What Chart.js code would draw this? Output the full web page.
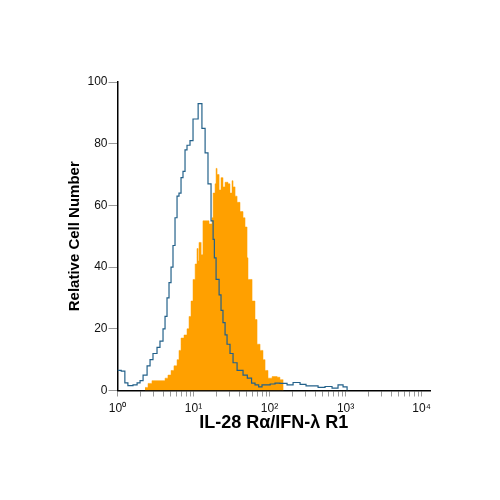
<!DOCTYPE html>
<html>
<head>
<meta charset="utf-8">
<script src="https://cdn.jsdelivr.net/npm/chart.js@4/dist/chart.umd.min.js"></script>
<style>
    html, body { margin: 0; padding: 0; background: #fff; }
    #wrap { width: 500px; height: 500px; position: relative; }
</style>
</head>
<body>
<div id="wrap"><canvas id="chart"></canvas></div>
<script>
// isotype control (blue outline): bin left edge -> relative count
const controlX = [1.0, 1.12, 1.25, 1.37, 1.60, 1.81, 1.98, 2.17, 2.45, 2.68, 2.93, 3.31, 3.62, 3.97, 4.22, 4.48, 4.76, 5.06, 5.37, 5.71, 6.07, 6.44, 6.85, 7.27, 7.73, 8.21, 8.99, 9.85, 11.5, 12.9, 14.2, 15.5, 17.0, 18.1, 18.8, 19.8, 21.7, 23.0, 24.4, 26.0, 27.6, 30.2, 33.1, 37.4, 44.8, 51.0, 58.0, 64.4, 72.0, 79.6, 90.0, 102, 118, 137, 170, 204, 252, 302, 362, 435, 537, 664, 796, 927, 1047];
const controlY = [6.5, 6.3, 2.5, 1.6, 1.8, 2.5, 3.2, 5, 8, 10, 12, 14, 16, 20, 24, 30, 35, 40, 47, 56, 63, 64, 69, 71, 78, 79.5, 81, 88, 93, 85, 77, 67, 55, 49, 43, 36, 31, 26, 22, 18, 15, 12, 9, 6.5, 5, 4, 2.4, 1.8, 1.2, 1.8, 1.8, 2.1, 2.4, 2.3, 1.8, 2.6, 2, 1.5, 1.5, 1, 1.3, 0.8, 1.8, 1.2, 0];

// IL-28 Ra stained cells (orange fill)
const stainedX = [2.30, 2.52, 2.84, 4.22, 4.61, 5.06, 5.53, 6.07, 6.44, 6.85, 7.50, 8.21, 8.73, 9.27, 9.85, 10.5, 11.1, 11.5, 11.8, 12.6, 13.3, 16.0, 17.5, 18.1, 19.2, 19.8, 20.4, 21.7, 23.0, 24.4, 26.0, 28.4, 30.2, 32.1, 33.1, 35.2, 37.4, 40.9, 44.8, 47.6, 50.6, 52.1, 58.9, 64.4, 68.5, 75.0, 82.0, 87.3, 95.5, 108, 126, 137, 151];
const stainedY = [1, 2.3, 3.2, 4, 5, 6.5, 8, 10, 13, 17, 18, 20, 24, 29, 36, 41, 46, 42, 48, 44, 55, 54, 56, 64, 67, 72, 70, 65, 69, 66, 67.5, 67, 64, 68, 66, 63, 61, 58, 56, 53, 43, 36, 29, 23, 15, 13, 10, 6.5, 4, 4.5, 4.3, 3.5, 0];

const xDecades = [1, 10, 100, 1000, 10000];
const xTickLabels = ["10\u2070", "10\u00b9", "10\u00b2", "10\u00b3", "10\u2074"];
const yTicks = [0, 20, 40, 60, 80, 100];

const xMinor = [];
xDecades.forEach(function (d) {
    for (let k = 1; k < 10; k++) {
        if (d * k <= 10000) xMinor.push(d * k);
    }
});

function toPoints(xs, ys) {
    return xs.map(function (x, i) { return { x: x, y: ys[i] }; });
}

const ctx = document.getElementById("chart").getContext("2d");
new Chart(ctx, {
    type: "line",
    data: {
        datasets: [
            {
                label: "IL-28 R\u03b1",
                data: toPoints(stainedX, stainedY),
                stepped: true,
                fill: "origin",
                backgroundColor: "#FFA000",
                borderColor: "#FFA000",
                borderWidth: 0.5,
                pointRadius: 0,
                order: 2,
            },
            {
                label: "Isotype",
                data: toPoints(controlX, controlY),
                stepped: true,
                fill: false,
                borderColor: "#23618a",
                borderWidth: 1.2,
                pointRadius: 0,
                order: 1,
            },
        ],
    },
    options: {
        responsive: true,
        maintainAspectRatio: false,
        animation: false,
        layout: { padding: { left: 0, right: 70, top: 82, bottom: 0 } },
        plugins: {
            legend: { display: false },
            tooltip: { enabled: false },
        },
        scales: {
            x: {
                type: "logarithmic",
                min: 1,
                max: 12900,
                afterBuildTicks: function (scale) {
                    scale.ticks = xMinor.map(function (v) {
                        return { value: v, major: xDecades.indexOf(v) >= 0 };
                    });
                },
                afterFit: function (scale) { scale.height = 109.5; },
                ticks: {
                    autoSkip: false,
                    maxRotation: 0,
                    padding: 5,
                    color: "#111",
                    font: { family: "'Liberation Sans', Arial, sans-serif", size: 12 },
                    callback: function (value) {
                        const i = xDecades.indexOf(value);
                        return i >= 0 ? xTickLabels[i] : "";
                    },
                },
                grid: {
                    drawOnChartArea: false,
                    drawTicks: true,
                    tickLength: 6,
                    color: "#9a9a9a",
                },
                border: { display: true, color: "#000", width: 1.5 },
                title: {
                    display: true,
                    text: "IL-28 R\u03b1/IFN-\u03bb R1",
                    color: "#000",
                    font: { family: "'Liberation Sans', Arial, sans-serif", size: 18, weight: "bold" },
                    padding: { top: 0, bottom: 66 },
                },
            },
            y: {
                min: 0,
                max: 100,
                afterBuildTicks: function (scale) {
                    scale.ticks = yTicks.map(function (v) { return { value: v }; });
                },
                afterFit: function (scale) { scale.width = 117.5; },
                ticks: {
                    padding: 1,
                    color: "#111",
                    font: { family: "'Liberation Sans', Arial, sans-serif", size: 12 },
                },
                grid: {
                    drawOnChartArea: false,
                    drawTicks: true,
                    tickLength: 9,
                    color: "#9a9a9a",
                },
                border: { display: true, color: "#000", width: 1.5 },
                title: {
                    display: true,
                    text: "Relative Cell Number",
                    color: "#000",
                    font: { family: "'Liberation Sans', Arial, sans-serif", size: 15, weight: "bold" },
                    padding: { top: 66, bottom: 0 },
                },
            },
        },
    },
});
</script>
</body>
</html>
